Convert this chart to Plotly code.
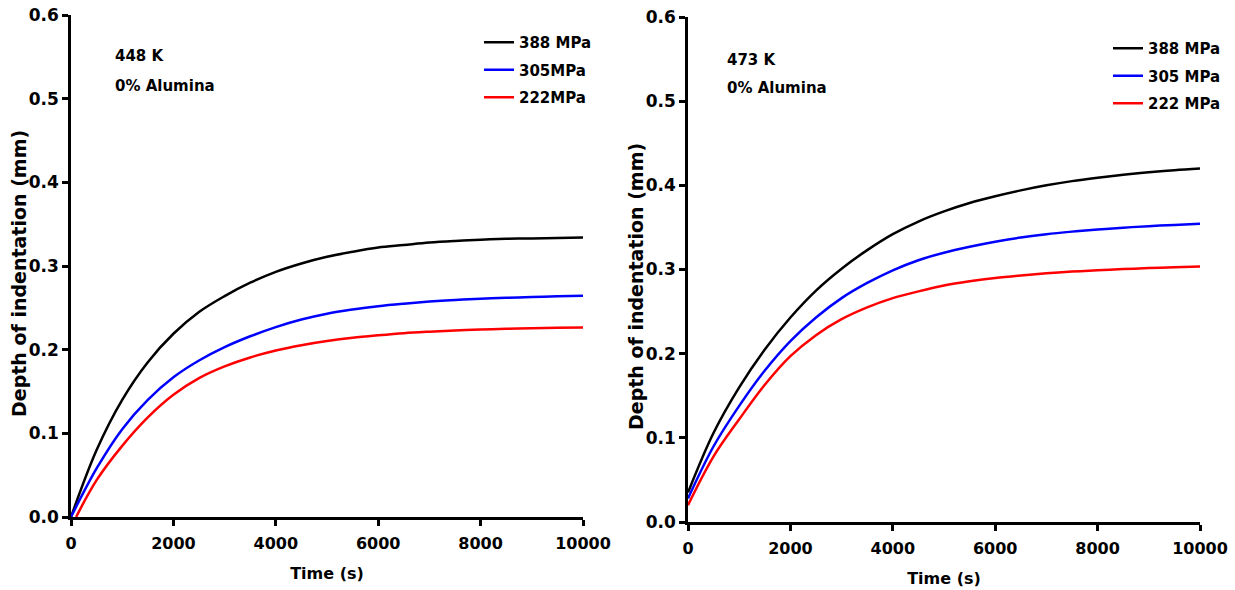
import plotly.graph_objects as go

# Time axis (s) shared by the curves
time_s = [0, 500, 1000, 1500, 2000, 2500, 3000, 3500, 4000, 4500, 5000,
          5500, 6000, 6500, 7000, 7500, 8000, 8500, 9000, 9500, 10000]
# the 222 MPa curve at 448 K only leaves zero shortly after loading
time_s_448_222 = [100, 500, 1000, 1500, 2000, 2500, 3000, 3500, 4000, 4500, 5000,
                  5500, 6000, 6500, 7000, 7500, 8000, 8500, 9000, 9500, 10000]

# Depth of indentation (mm), 448 K, 0% alumina
depth_448_388 = [0.000, 0.080, 0.140, 0.185, 0.219, 0.245, 0.264, 0.280, 0.293, 0.303, 0.311,
                 0.317, 0.322, 0.325, 0.328, 0.330, 0.3315, 0.3325, 0.333, 0.3335, 0.334]
depth_448_305 = [0.000, 0.058, 0.105, 0.140, 0.167, 0.187, 0.203, 0.216, 0.227, 0.236, 0.243,
                 0.248, 0.252, 0.255, 0.2575, 0.2595, 0.261, 0.262, 0.263, 0.2637, 0.2643]
depth_448_222 = [0.000, 0.044, 0.085, 0.119, 0.146, 0.166, 0.180, 0.1907, 0.199, 0.2054, 0.2104,
                 0.2143, 0.2172, 0.2197, 0.2215, 0.2230, 0.2241, 0.2250, 0.2256, 0.2261, 0.2266]

# Depth of indentation (mm), 473 K, 0% alumina
depth_473_388 = [0.035, 0.106, 0.160, 0.205, 0.243, 0.275, 0.301, 0.323, 0.342, 0.357, 0.369,
                 0.379, 0.387, 0.394, 0.400, 0.405, 0.409, 0.4125, 0.4155, 0.418, 0.420]
depth_473_305 = [0.028, 0.090, 0.138, 0.180, 0.215, 0.243, 0.266, 0.284, 0.299, 0.311, 0.320,
                 0.327, 0.333, 0.338, 0.342, 0.345, 0.3475, 0.3497, 0.3515, 0.353, 0.3545]
depth_473_222 = [0.020, 0.078, 0.122, 0.163, 0.197, 0.222, 0.241, 0.255, 0.266, 0.274, 0.281,
                 0.286, 0.290, 0.293, 0.2955, 0.2975, 0.299, 0.3005, 0.3017, 0.3027, 0.3035]

x_ticks = [0, 2000, 4000, 6000, 8000, 10000]
x_tick_text = ["0", "2000", "4000", "6000", "8000", "10000"]
y_ticks = [0.0, 0.1, 0.2, 0.3, 0.4, 0.5, 0.6]

labels_448 = ["388 MPa", "305MPa", "222MPa"]
labels_473 = ["388 MPa", "305 MPa", "222 MPa"]
colors = ["#000000", "#0000ff", "#ff0000"]

W, H = 1235, 590
FONT = "DejaVu Sans"


def px(x):
    return x / W


def py(y):
    return 1 - y / H


fig = go.Figure()

left = [(time_s, depth_448_388), (time_s, depth_448_305), (time_s_448_222, depth_448_222)]
right = [(time_s, depth_473_388), (time_s, depth_473_305), (time_s, depth_473_222)]

for i, (t, d) in enumerate(left):
    fig.add_trace(go.Scatter(
        x=t, y=d, mode="lines", name=labels_448[i], legendgroup=f"l{i}",
        line=dict(color=colors[i], width=2.5, shape="spline"),
        xaxis="x", yaxis="y", legend="legend"))

for i, (t, d) in enumerate(right):
    fig.add_trace(go.Scatter(
        x=t, y=d, mode="lines", name=labels_473[i], legendgroup=f"r{i}",
        line=dict(color=colors[i], width=2.5, shape="spline"),
        xaxis="x2", yaxis="y2", legend="legend2"))

x_tick_font = dict(family=FONT, size=16, color="#000000", weight="bold")
y_tick_font = dict(family=FONT, size=17, color="#000000", weight="bold")
title_font_x = dict(family=FONT, size=16, color="#000000", weight="bold")
title_font_y = dict(family=FONT, size=19, color="#000000", weight="bold")

common_x = dict(range=[0, 10000], tickvals=x_ticks, ticktext=x_tick_text,
                ticks="outside", ticklen=6, tickwidth=2.5, tickcolor="#000000",
                showline=True, linewidth=2.5, linecolor="#000000", showgrid=False,
                zeroline=False, tickfont=x_tick_font, ticklabelstandoff=4, automargin=False,
                title=dict(text="Time (s)", font=title_font_x, standoff=16))
common_y = dict(range=[0, 0.6], tickvals=y_ticks, tickformat=".1f", ticks="outside",
                ticklen=6, tickwidth=2.5, tickcolor="#000000", showline=True,
                linewidth=2.5, linecolor="#000000", showgrid=False, zeroline=False,
                tickfont=y_tick_font, automargin=False)

legend_common = dict(font=dict(family=FONT, size=15, color="#000000", weight="bold"),
                     bgcolor="rgba(0,0,0,0)", borderwidth=0, tracegroupgap=5,
                     xanchor="left", yanchor="top", itemwidth=30)

fig.update_layout(
    width=W, height=H,
    margin=dict(l=0, r=0, t=0, b=0),
    paper_bgcolor="#ffffff", plot_bgcolor="#ffffff",
    xaxis=dict(domain=[px(71), px(583)], anchor="y", **common_x),
    yaxis=dict(domain=[py(517), py(15)], anchor="x", **common_y),
    xaxis2=dict(domain=[px(688), px(1200)], anchor="y2", **common_x),
    yaxis2=dict(domain=[py(522), py(17)], anchor="x2", **common_y),
    legend=dict(x=px(479), y=py(26), **legend_common),
    legend2=dict(x=px(1108), y=py(32), **legend_common),
)

# vertical axis titles, one per panel
for x, y in [(19, 274), (636, 286)]:
    fig.add_annotation(text="Depth of indentation (mm)", x=px(x), y=py(y),
                       xref="paper", yref="paper", xanchor="center", yanchor="middle",
                       textangle=-90, showarrow=False, font=title_font_y)

note_font = dict(family=FONT, size=15, color="#000000", weight="bold")
notes = [("448 K", 113, 56), ("0% Alumina", 113, 86),
         ("473 K", 725, 60), ("0% Alumina", 725, 88)]
for text, x, y in notes:
    fig.add_annotation(text=text, x=px(x), y=py(y), xref="paper", yref="paper",
                       xanchor="left", yanchor="middle", showarrow=False, font=note_font)

fig.write_html("out.html")
